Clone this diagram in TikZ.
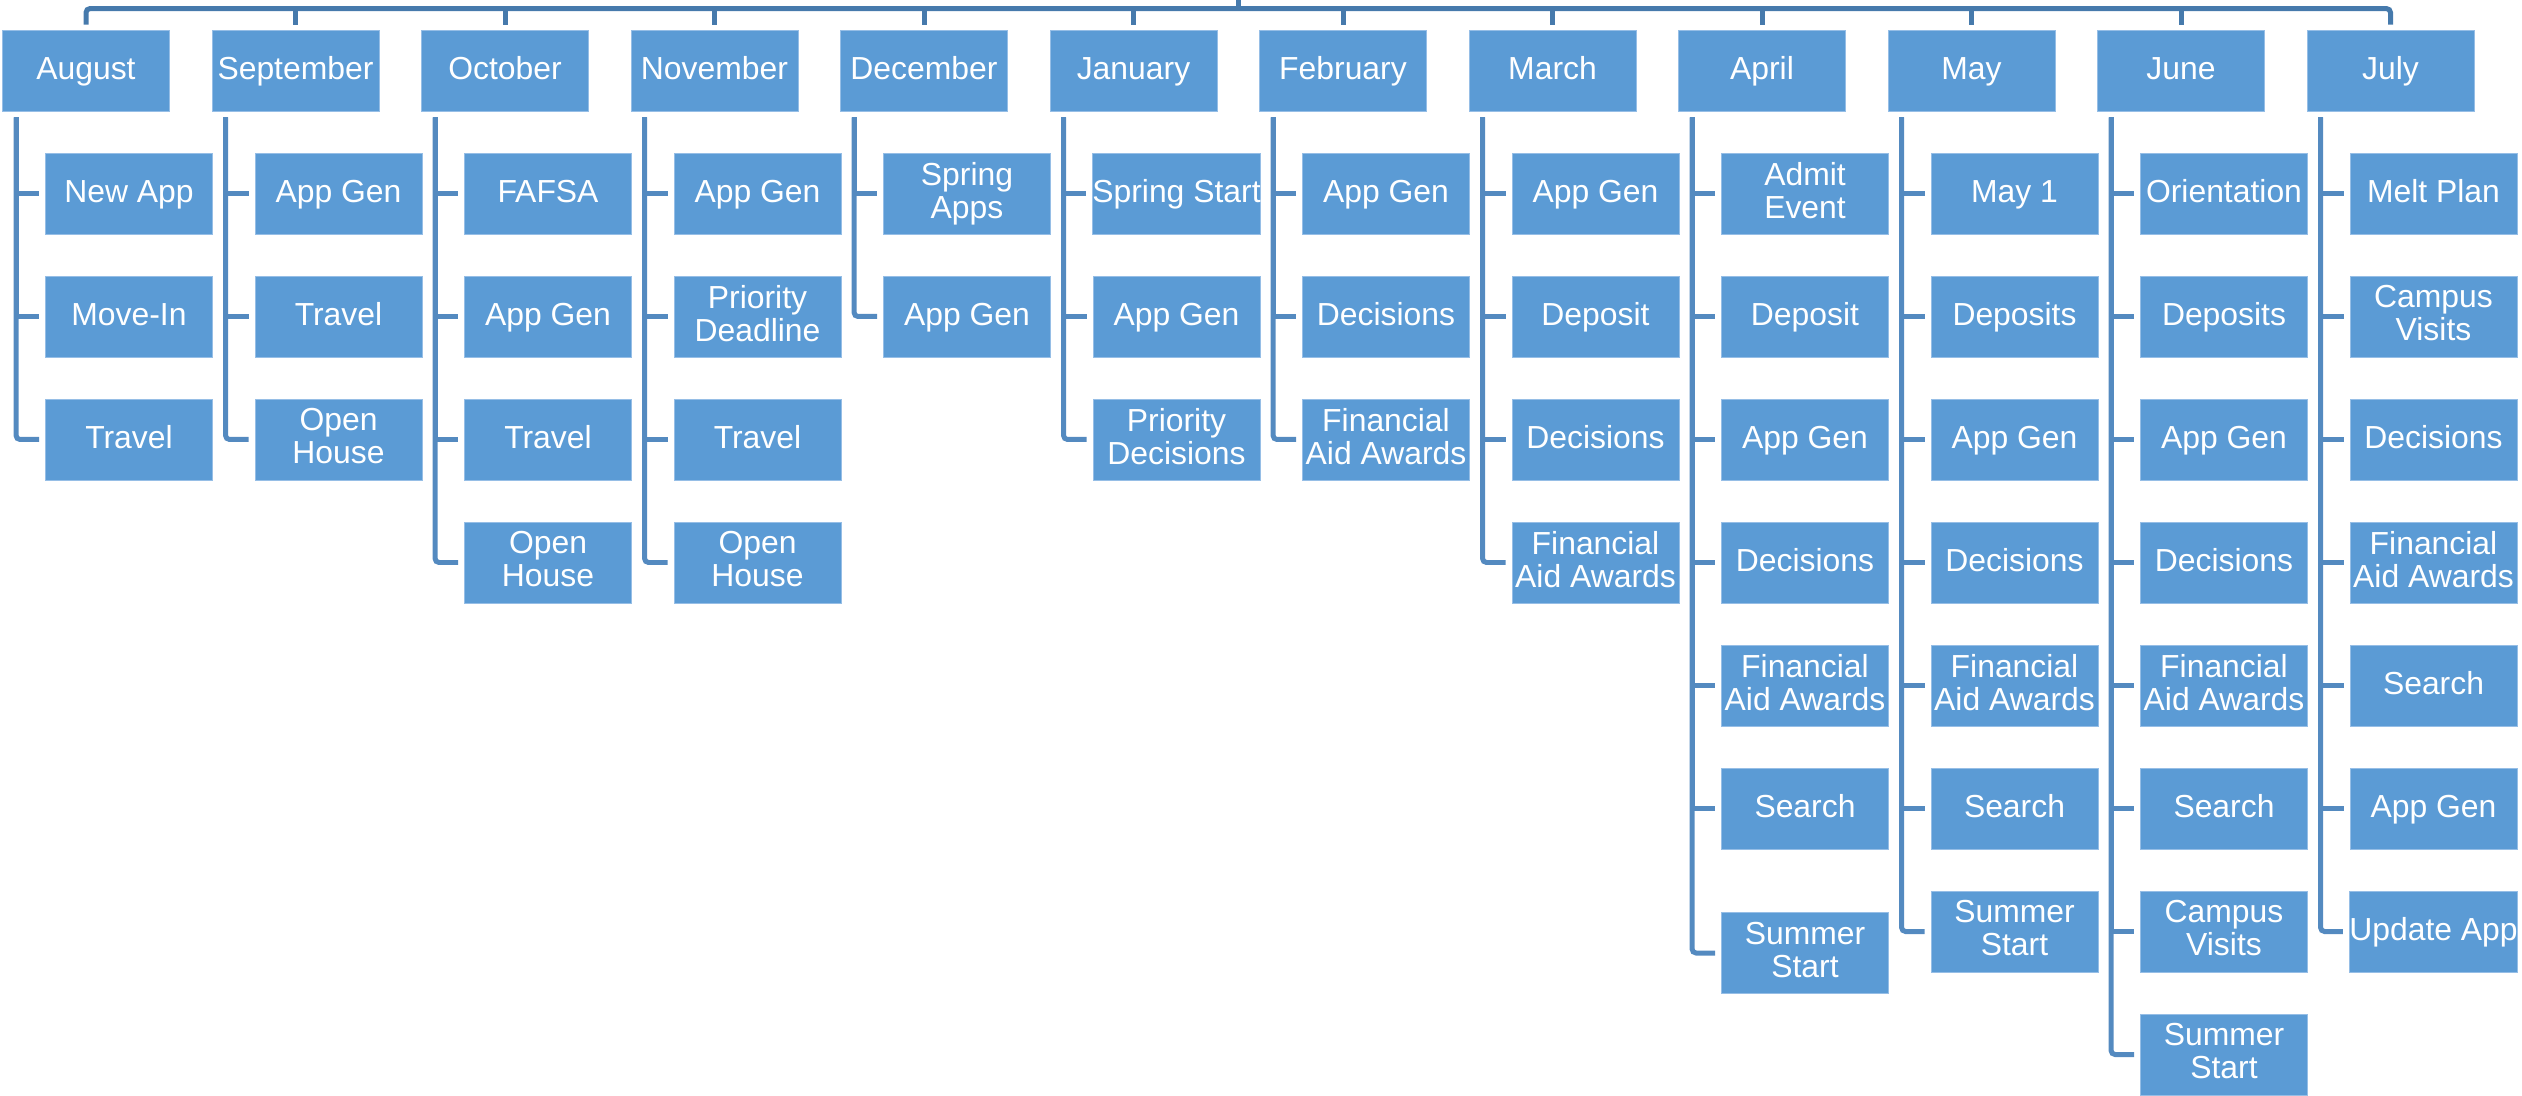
\documentclass[tikz,border=0pt]{standalone}
\usepackage{fontspec}
\setmainfont{Liberation Sans}
\usepackage{tikz}
\usetikzlibrary{positioning}

\definecolor{boxblue}{RGB}{91,155,213}
\definecolor{boxedge}{RGB}{150,190,230}
\definecolor{barblue}{RGB}{70,122,172}
\definecolor{spineblue}{RGB}{84,138,192}

% children of one month, stacked below it
\newcommand\subitems[2]{%
  \foreach \t [count=\i] in {#2}
    \node[item] (#1-\i) at ([shift={(43,{123*\i})}]#1.center) {\t};}
% spine and stubs from a month to its children
\newcommand\branch[2]{%
  \pgfmathtruncatemacro\lastbut{#2-1}
  \foreach \i in {1,...,\lastbut}
    \draw[spine] ([shift={(14,6)}]#1.south west) |- ([shift={(-6,0)}]#1-\i.west);
  \draw[spine,rounded corners=0.4mm] ([shift={(14,6)}]#1.south west) |- ([shift={(-6,0)}]#1-#2.west);}

\begin{document}
\begin{tikzpicture}
    [
    x=0.1mm, y=-0.1mm,
    month/.style={rectangle,fill=boxblue,draw=boxedge,line width=0.25pt,inner sep=0pt,
      minimum width=16.7mm,minimum height=8.1mm,align=center,
      text=white,font=\fontsize{9.07}{9.4}\selectfont,
      execute at begin node=\rule{0pt}{7.2pt},
      execute at end node=\rule[-1.8pt]{0pt}{1.8pt}},
    item/.style={month},
    bar/.style={draw=barblue,line width=0.5mm},
    spine/.style={draw=spineblue,line width=0.5mm}
    ]
    \useasboundingbox (0,0) rectangle (2522,1096);

    % months
    \foreach \m/\name [count=\n] in {aug/August,sep/September,oct/October,nov/November,
      dec/December,jan/January,feb/February,mar/March,apr/April,may/May,jun/June,jul/July}
      \node[month] (\m) at ({86+209.5*(\n-1)},70.5) {\name};

    % top bar
    \coordinate (root) at (1238,0);
    \draw[bar] (root) -- ++(0,9);
    \draw[bar,rounded corners=0.4mm] ([shift={(0,-5)}]aug.north) -- ++(0,-16)
      -| ([shift={(0,-5)}]jul.north);
    \foreach \m in {sep,oct,nov,dec,jan,feb,mar,apr,may,jun}
      \draw[bar] ([shift={(0,-5)}]\m.north) -- ++(0,-16);

    % activities
    \subitems{aug}{New App,Move-In,Travel}
    \subitems{sep}{App Gen,Travel,Open\\House}
    \subitems{oct}{FAFSA,App Gen,Travel,Open\\House}
    \subitems{nov}{App Gen,Priority\\Deadline,Travel,Open\\House}
    \subitems{dec}{Spring\\Apps,App Gen}
    \subitems{jan}{Spring Start,App Gen,Priority\\Decisions}
    \subitems{feb}{App Gen,Decisions,Financial\\Aid Awards}
    \subitems{mar}{App Gen,Deposit,Decisions,Financial\\Aid Awards}
    \subitems{apr}{Admit\\Event,Deposit,App Gen,Decisions,Financial\\Aid Awards,Search}
    \node[item] (apr-7) at ([shift={(43,882.5)}]apr.center) {Summer\\Start};
    \subitems{may}{May 1,Deposits,App Gen,Decisions,Financial\\Aid Awards,Search,Summer\\Start}
    \subitems{jun}{Orientation,Deposits,App Gen,Decisions,Financial\\Aid Awards,Search,
      Campus\\Visits,Summer\\Start}
    \subitems{jul}{Melt Plan,Campus\\Visits,Decisions,Financial\\Aid Awards,Search,App Gen,
      Update App}

    % connectors
    \branch{aug}{3}
    \branch{sep}{3}
    \branch{oct}{4}
    \branch{nov}{4}
    \branch{dec}{2}
    \branch{jan}{3}
    \branch{feb}{3}
    \branch{mar}{4}
    \branch{apr}{7}
    \branch{may}{7}
    \branch{jun}{8}
    \branch{jul}{7}
\end{tikzpicture}
\end{document}
